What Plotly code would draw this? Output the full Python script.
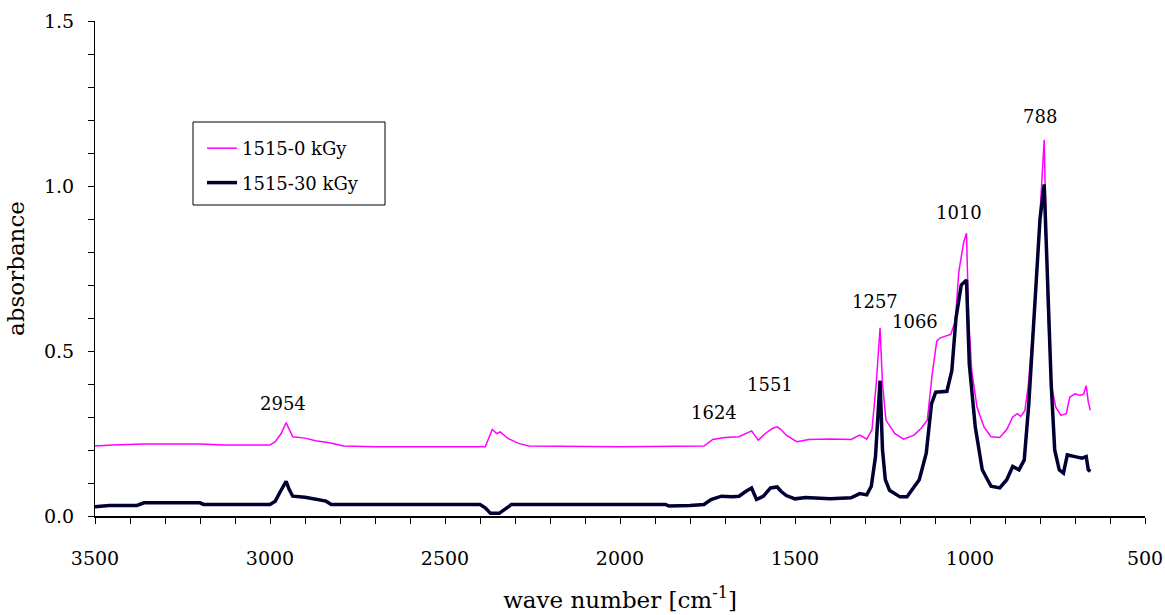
import plotly.graph_objects as go

# FTIR absorbance spectra, wavenumber in cm^-1
wn_0kgy = [3500, 3450, 3360, 3200, 3130, 3000, 2985, 2968, 2954, 2945, 2935, 2900,
           2870, 2830, 2790, 2700, 2385, 2365, 2352, 2342, 2320, 2290, 2260, 2000,
           1760, 1735, 1700, 1660, 1640, 1624, 1605, 1585, 1565, 1551, 1540, 1525,
           1495, 1460, 1400, 1340, 1315, 1295, 1280, 1268, 1257, 1250, 1240, 1215,
           1190, 1160, 1140, 1122, 1108, 1095, 1085, 1066, 1055, 1042, 1032, 1018,
           1010, 1004, 995, 980, 960, 940, 915, 895, 878, 865, 855, 843, 833, 815,
           800, 788, 778, 768, 755, 740, 725, 715, 700, 685, 675, 668, 662, 656]
abs_0kgy = [0.212, 0.215, 0.218, 0.218, 0.215, 0.215, 0.225, 0.25, 0.283, 0.26, 0.24, 0.236,
            0.228, 0.222, 0.212, 0.21, 0.21, 0.262, 0.25, 0.255, 0.235, 0.22, 0.212, 0.21,
            0.212, 0.232, 0.238, 0.24, 0.25, 0.258, 0.23, 0.25, 0.265, 0.27, 0.262, 0.245,
            0.225, 0.232, 0.233, 0.232, 0.245, 0.233, 0.262, 0.40, 0.57, 0.40, 0.29, 0.25,
            0.233, 0.245, 0.265, 0.29, 0.43, 0.53, 0.54, 0.545, 0.55, 0.59, 0.74, 0.83,
            0.857, 0.60, 0.44, 0.33, 0.27, 0.24, 0.238, 0.262, 0.30, 0.31, 0.302, 0.32, 0.40, 0.64,
            0.90, 1.14, 0.62, 0.40, 0.33, 0.305, 0.31, 0.36, 0.37, 0.365, 0.37, 0.395, 0.345, 0.32]

wn_30kgy = [3500, 3460, 3380, 3360, 3200, 3190, 3000, 2985, 2970, 2954, 2945, 2935,
            2900, 2870, 2840, 2825, 2400, 2385, 2370, 2345, 2330, 2310, 1870, 1860,
            1800, 1760, 1740, 1710, 1680, 1660, 1640, 1624, 1610, 1590, 1570, 1551,
            1540, 1525, 1500, 1470, 1400, 1340, 1315, 1295, 1282, 1270, 1257, 1250,
            1242, 1230, 1200, 1180, 1145, 1125, 1110, 1098, 1066, 1052, 1040, 1025,
            1010, 1002, 985, 965, 940, 915, 895, 878, 860, 845, 832, 815, 800, 788,
            778, 768, 758, 745, 733, 722, 700, 680, 668, 662, 656]
abs_30kgy = [0.028, 0.032, 0.032, 0.04, 0.04, 0.035, 0.035, 0.045, 0.075, 0.105, 0.08, 0.06,
             0.057, 0.05, 0.045, 0.035, 0.035, 0.025, 0.008, 0.008, 0.02, 0.035, 0.035, 0.03,
             0.032, 0.035, 0.05, 0.06, 0.058, 0.06, 0.075, 0.085, 0.05, 0.06, 0.085, 0.088,
             0.075, 0.062, 0.052, 0.056, 0.052, 0.055, 0.068, 0.064, 0.09, 0.18, 0.41, 0.2,
             0.11, 0.078, 0.058, 0.058, 0.11, 0.19, 0.34, 0.375, 0.378, 0.44, 0.60, 0.70,
             0.715, 0.46, 0.27, 0.14, 0.09, 0.085, 0.11, 0.15, 0.14, 0.17, 0.34, 0.65, 0.90, 1.005,
             0.66, 0.40, 0.20, 0.14, 0.13, 0.185, 0.18, 0.175, 0.18, 0.14, 0.135]

# Peak labels: wavenumber, label height (absorbance), horizontal nudge in px
peak_wn = [2954, 1624, 1551, 1257, 1066, 1010, 788]
peak_label_y = [0.34, 0.315, 0.40, 0.65, 0.59, 0.92, 1.21]
peak_label_dx = [-3, -38, -7, -5, -32, -8, -4]

x_ticks = [3500, 3000, 2500, 2000, 1500, 1000, 500]
y_ticks = [0.0, 0.5, 1.0, 1.5]

FONT = "DejaVu Serif, Liberation Serif, serif"

fig = go.Figure()
fig.add_trace(go.Scatter(x=wn_0kgy, y=abs_0kgy, mode="lines", name="1515-0 kGy",
                         legendgroup="a",
                         line=dict(color="#FF00FF", width=1.5)))
fig.add_trace(go.Scatter(x=wn_30kgy, y=abs_30kgy, mode="lines", name="1515-30 kGy",
                         legendgroup="b",
                         line=dict(color="#000033", width=3.5)))

for wn, ly, dx in zip(peak_wn, peak_label_y, peak_label_dx):
    fig.add_annotation(x=wn, y=ly, text=str(wn), showarrow=False, xshift=dx,
                       font=dict(family=FONT, size=18, color="black"))

# legend frame
fig.add_shape(type="rect", xref="paper", yref="paper",
              x0=(193 - 95) / 1050, x1=(385 - 95) / 1050,
              y0=(516 - 205) / 495, y1=(516 - 122) / 495,
              line=dict(color="black", width=1), fillcolor="white", layer="above")

fig.update_layout(
    width=1165, height=615,
    margin=dict(l=95, r=20, t=21, b=99),
    paper_bgcolor="white", plot_bgcolor="white",
    font=dict(family=FONT, size=19, color="black"),
    showlegend=True,
    legend=dict(x=(202 - 95) / 1050, y=(516 - 130) / 495, xanchor="left", yanchor="top",
                bgcolor="rgba(0,0,0,0)", borderwidth=0, itemwidth=30,
                tracegroupgap=8, font=dict(family=FONT, size=18)),
    xaxis=dict(range=[3500, 500], tickvals=x_ticks, ticks="outside", ticklen=6,
               tickcolor="black", showline=True, linecolor="black", linewidth=1.5,
               showgrid=False, zeroline=False, ticklabelstandoff=18, automargin=False,
               tickfont=dict(family=FONT, size=19),
               minor=dict(dtick=100, ticks="outside", ticklen=6, tickcolor="black"),
               title=dict(text="wave number [cm<sup>-1</sup>]", standoff=24,
                          font=dict(family=FONT, size=23))),
    yaxis=dict(range=[0, 1.5], tickvals=y_ticks, tickformat=".1f", ticks="outside",
               ticklen=6, tickcolor="black", showline=True, linecolor="black",
               linewidth=1, showgrid=False, zeroline=False, ticklabelstandoff=10,
               automargin=False, tickfont=dict(family=FONT, size=19),
               minor=dict(dtick=0.1, ticks="outside", ticklen=6, tickcolor="black"),
               title=dict(text="absorbance", standoff=12,
                          font=dict(family=FONT, size=23))),
)

fig.write_html("out.html")
